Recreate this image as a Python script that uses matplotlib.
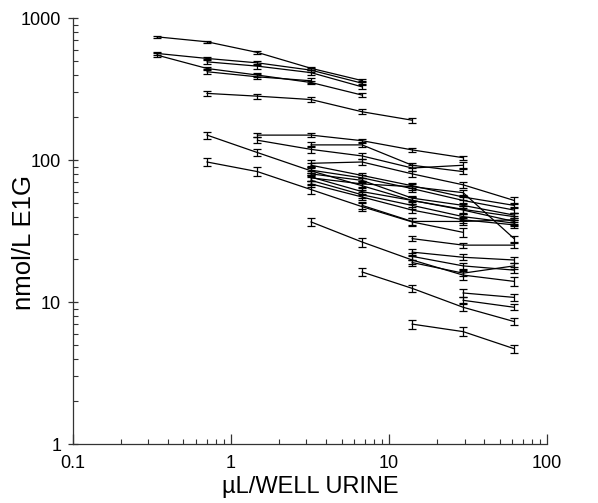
import numpy as np
import matplotlib
matplotlib.use("Agg")
import matplotlib.pyplot as plt
from matplotlib.ticker import LogLocator, NullFormatter

plt.rcParams['font.family'] = ['Liberation Sans', 'DejaVu Sans']

nan = np.nan
# dilution columns (uL/well urine)
x_vals = [0.34, 0.705, 1.47, 3.21, 6.75, 14.0, 29.4, 61.8]

# each series: 8 values (nmol/L E1G), nan where not measured
series = [
    [738, 681, 573, 443, 363, nan, nan, nan],
    [564, 520, 484, 430, 348, nan, nan, nan],
    [549, 442, 397, 352, 287, nan, nan, nan],
    [nan, 492, 459, 413, 328, nan, nan, nan],
    [nan, 419, 386, 362, nan, nan, nan, nan],
    [nan, 295, 282, 267, 219, 191, nan, nan],
    [nan, 150, 113, 84, 66, 52, 45, 40],
    [nan, 97, 83, 62, 47, 36.7, 31, nan],
    [nan, nan, 150, 150, 137, 118, 104, nan],
    [nan, nan, 138, 119, 107, 88, 92, nan],
    [nan, nan, nan, 128, 128, 92, 83, nan],
    [nan, nan, nan, 95, 97, 80, 67, 52],
    [nan, nan, nan, 92, 78, 66, 55, 48],
    [nan, nan, nan, 85, 75, 63, 52, 44.5],
    [nan, nan, nan, 80, 72, 54, 48, 41],
    [nan, nan, nan, 76, 60, 52, 44.5, 37],
    [nan, nan, nan, 72, 57, 48, 40, 36],
    [nan, nan, nan, 68, 55, 44.5, 38, 35],
    [nan, nan, nan, 75, 68, 65, 59, 28],
    [nan, nan, nan, nan, 48, 37, 37, 38],
    [nan, nan, nan, 36.7, 26.5, 19.8, 15.5, 14],
    [nan, nan, nan, nan, 16.3, 12.5, 9.2, 7.3],
    [nan, nan, nan, nan, nan, 7.0, 6.2, 4.7],
    [nan, nan, nan, nan, nan, 28, 25.2, 25.2],
    [nan, nan, nan, nan, nan, 22.5, 20.7, 19.8],
    [nan, nan, nan, nan, nan, 21, 18, 16.8],
    [nan, nan, nan, nan, nan, 19, 16, 18],
    [nan, nan, nan, nan, nan, nan, 11.6, 10.8],
    [nan, nan, nan, nan, nan, nan, 10.3, 9.2],
]
# approximate relative size of the error bars for each series
rel_err = [0.02, 0.03, 0.03, 0.04, 0.04, 0.04, 0.06, 0.07, 0.03, 0.05,
           0.04, 0.05, 0.04, 0.05, 0.04, 0.06, 0.05, 0.05, 0.05, 0.06,
           0.07, 0.06, 0.07, 0.04, 0.05, 0.05, 0.05, 0.06, 0.05]

x_ticks = [0.1, 1, 10, 100]
x_tick_labels = ["0.1", "1", "10", "100"]
y_ticks = [1, 10, 100, 1000]
y_tick_labels = ["1", "10", "100", "1000"]

fig = plt.figure(figsize=(5.98, 5.03), dpi=100)
ax = fig.add_axes([0.122, 0.117, 0.793, 0.847])

xa = np.array(x_vals)
for s, r in zip(series, rel_err):
    y = np.array(s, dtype=float)
    m = ~np.isnan(y)
    ax.errorbar(xa[m], y[m], yerr=y[m] * r, color='black', lw=0.9,
                elinewidth=0.9, capsize=3.2, capthick=0.9)

ax.set_xscale('log')
ax.set_yscale('log')
ax.set_xlim(0.1, 100)
ax.set_ylim(1, 1000)
ax.set_xticks(x_ticks)
ax.set_xticklabels(x_tick_labels)
ax.set_yticks(y_ticks)
ax.set_yticklabels(y_tick_labels)
ax.xaxis.set_minor_locator(LogLocator(base=10, subs=np.arange(2, 10)))
ax.yaxis.set_minor_locator(LogLocator(base=10, subs=np.arange(2, 10)))
ax.xaxis.set_minor_formatter(NullFormatter())
ax.yaxis.set_minor_formatter(NullFormatter())

for sp in ['top', 'right']:
    ax.spines[sp].set_visible(False)
for sp in ['left', 'bottom']:
    ax.spines[sp].set_linewidth(0.9)
    ax.spines[sp].set_color('#333333')

ax.tick_params(axis='x', which='major', direction='in', length=7, width=0.9,
               labelsize=13, pad=8, color='#333333')
ax.tick_params(axis='x', which='minor', direction='in', length=3.5, width=0.8,
               color='#333333')
ax.tick_params(axis='y', which='major', direction='inout', length=7, width=0.9,
               labelsize=13, pad=5, color='#333333')
ax.tick_params(axis='y', which='minor', direction='in', length=3.5, width=0.8,
               color='#333333')

ax.set_xlabel("µL/WELL URINE", fontsize=17, labelpad=3)
ax.set_ylabel("nmol/L E1G", fontsize=18.5, va='center')
ax.yaxis.set_label_coords(-0.103, 0.474)

fig.savefig("out.png", dpi=100)
